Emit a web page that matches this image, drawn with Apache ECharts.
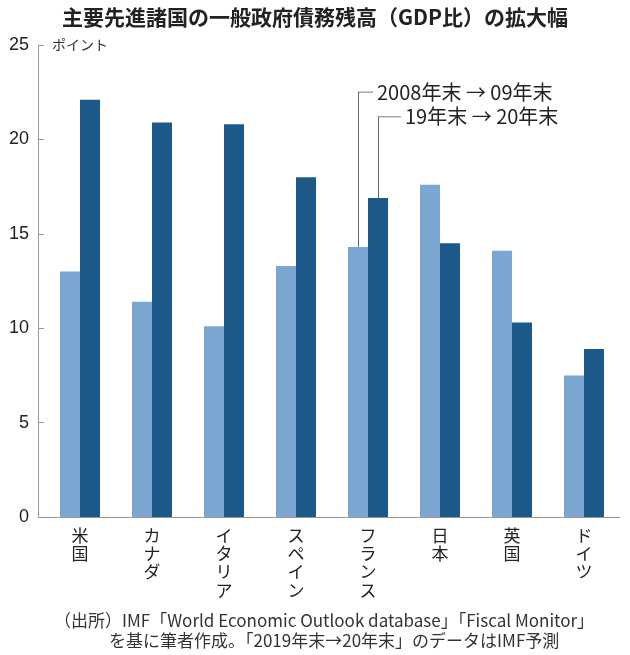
<!DOCTYPE html>
<html>
<head>
<meta charset="utf-8">
<script src="https://cdn.jsdelivr.net/npm/echarts@6/dist/echarts.min.js"></script>
<style>
  html, body { margin: 0; padding: 0; background: #fff; }
  #chart { width: 630px; height: 655px; }
</style>
</head>
<body>
<div id="chart"></div>
<script>
var countries = ["米国", "カナダ", "イタリア", "スペイン", "フランス", "日本", "英国", "ドイツ"];
var rise0809 = [13.0, 11.4, 10.1, 13.3, 14.3, 17.6, 14.1, 7.5];
var rise1920 = [22.1, 20.9, 20.8, 18.0, 16.9, 14.5, 10.3, 8.9];
var seriesNames = ["2008年末 → 09年末", "19年末 → 20年末"];
// 凡例の引き出し線の高さ（ポイント）
var calloutLevels = [22.5, 21.2];
var calloutCountry = "フランス";

var FONT = "'Noto Sans CJK JP', 'Noto Sans', sans-serif";
var NUMFONT = "'Liberation Sans Narrow', 'Liberation Sans', sans-serif";

function callout(idx, values, hrWidth) {
  var i = countries.indexOf(calloutCountry);
  return {
    markLine: {
      silent: true,
      symbol: ["none", "none"],
      lineStyle: { color: "#666", width: 1, type: "solid" },
      label: { show: false },
      data: [[
        { coord: [calloutCountry, values[i]] },
        { coord: [calloutCountry, calloutLevels[idx]] }
      ]]
    },
    markPoint: {
      silent: true,
      symbol: "circle",
      symbolSize: 0,
      label: {
        show: true,
        position: "right",
        distance: 0,
        formatter: "{hr|}{t|" + seriesNames[idx] + "}",
        rich: {
          hr: { width: hrWidth, height: 0, borderColor: "#666", borderWidth: 0.5 },
          t: { fontFamily: FONT, fontSize: 20, color: "#222", padding: [0, 0, 0, 4] }
        }
      },
      data: [{ coord: [calloutCountry, calloutLevels[idx]] }]
    }
  };
}

var chart = echarts.init(document.getElementById("chart"));

var option = {
  backgroundColor: "#fff",
  animation: false,
  title: [
    {
      text: "主要先進諸国の一般政府債務残高（GDP比）の拡大幅",
      left: "center",
      top: 7,
      padding: 0,
      textStyle: { fontFamily: FONT, fontSize: 21, fontWeight: "bold", color: "#222" }
    },
    {
      text: "（出所）IMF「World Economic Outlook database」「Fiscal Monitor」",
      left: 54,
      top: 612,
      padding: 0,
      textStyle: { fontFamily: FONT, fontSize: 17, fontWeight: "normal", color: "#333" }
    },
    {
      text: "を基に筆者作成。「2019年末→20年末」のデータはIMF予測",
      left: 109,
      top: 632,
      padding: 0,
      textStyle: { fontFamily: FONT, fontSize: 17, fontWeight: "normal", color: "#333" }
    }
  ],
  grid: { left: 44, right: 10, top: 45, bottom: 138, containLabel: false },
  xAxis: {
    type: "category",
    data: countries,
    axisLine: { lineStyle: { color: "#999", width: 1 } },
    axisTick: { show: false },
    axisLabel: {
      interval: 0,
      margin: 9,
      fontFamily: FONT,
      fontSize: 17,
      lineHeight: 18.3,
      color: "#222",
      formatter: function (v) { return v.split("").join("\n"); }
    }
  },
  yAxis: {
    type: "value",
    min: 0,
    max: 25,
    interval: 5,
    offset: 6,
    name: "ポイント",
    nameLocation: "end",
    nameGap: 0,
    nameTextStyle: {
      fontFamily: FONT, fontSize: 14, color: "#333",
      align: "left", verticalAlign: "middle", padding: [0, 0, 0, 14]
    },
    axisLine: { show: true, lineStyle: { color: "#999", width: 1 } },
    axisTick: { show: true, inside: true, length: 6, lineStyle: { color: "#999" } },
    splitLine: { show: false },
    axisLabel: { margin: 9, fontFamily: NUMFONT, fontSize: 18, color: "#222" }
  },
  series: [
    Object.assign({
      name: seriesNames[0],
      type: "bar",
      data: rise0809,
      barWidth: 20,
      barGap: "0%",
      itemStyle: { color: "#7aa7d2" }
    }, callout(0, rise0809, 15)),
    Object.assign({
      name: seriesNames[1],
      type: "bar",
      data: rise1920,
      barWidth: 20,
      barGap: "0%",
      itemStyle: { color: "#1c5888" }
    }, callout(1, rise1920, 23))
  ]
};

chart.setOption(option);
</script>
</body>
</html>
